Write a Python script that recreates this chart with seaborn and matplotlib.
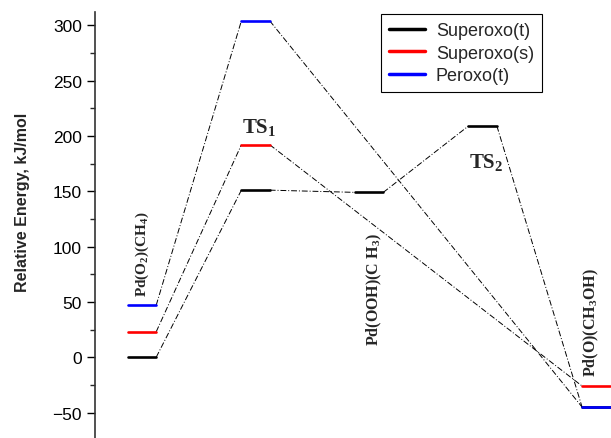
import pandas as pd
import matplotlib
matplotlib.use('Agg')
import matplotlib.pyplot as plt
import seaborn as sns
from matplotlib.ticker import MultipleLocator

# energie relative (kJ/mol) per ogni specie lungo il cammino di reazione
species = ['Superoxo(t)', 'Superoxo(s)', 'Peroxo(t)']
steps_t = [0, 1, 2, 3, 4]
energy_sup_t = [0, 151, 149, 209, -45]
steps_s = [0, 1, 4]
energy_sup_s = [23, 192, -26]
steps_p = [0, 1, 4]
energy_per_t = [47, 304, -45]

stage_labels = ['Pd(O$_2$)(CH$_4$)', 'Pd(OOH)(C H$_3$)', 'Pd(O)(CH$_3$OH)']
ts_labels = ['TS$_1$', 'TS$_2$']

palette = {'Superoxo(t)': 'black', 'Superoxo(s)': 'red', 'Peroxo(t)': 'blue'}
half = 0.125

# costruisco le tabelle per i livelli e per i collegamenti
paths = {'Superoxo(t)': (steps_t, energy_sup_t),
         'Superoxo(s)': (steps_s, energy_sup_s),
         'Peroxo(t)': (steps_p, energy_per_t)}
lev_rows, con_rows = [], []
for sp in species:
    st, en = paths[sp]
    for i, (s, e) in enumerate(zip(st, en)):
        lev_rows.append({'species': sp, 'seg': f'{sp}-{i}', 'x': s - half, 'E': e})
        lev_rows.append({'species': sp, 'seg': f'{sp}-{i}', 'x': s + half, 'E': e})
        if i > 0:
            con_rows.append({'species': sp, 'seg': f'{sp}-c{i}', 'x': st[i - 1] + half, 'E': en[i - 1]})
            con_rows.append({'species': sp, 'seg': f'{sp}-c{i}', 'x': s - half, 'E': e})
levels = pd.DataFrame(lev_rows)
conns = pd.DataFrame(con_rows)

sns.set_style('ticks')
plt.rcParams['font.family'] = ['Liberation Sans', 'DejaVu Sans']
plt.rcParams['mathtext.default'] = 'regular'

fig = plt.figure(figsize=(6.11, 4.39), dpi=100)
ax = fig.add_axes([95 / 611, 0.0, 1 - 95 / 611, 1 - 13 / 439])

# collegamenti tratteggiati
for sp in species:
    sns.lineplot(data=conns[conns['species'] == sp], x='x', y='E', units='seg',
                 estimator=None, sort=False, color='black', lw=0.7,
                 linestyle=(0, (6, 2, 1, 2)), legend=False, ax=ax)

# livelli energetici
sns.lineplot(data=levels, x='x', y='E', hue='species', units='seg', estimator=None,
             sort=False, palette=palette, hue_order=species, lw=1.9, ax=ax)

ax.set_xlim(-0.414, 4.13)
ax.set_ylim(-73, 312)
ax.yaxis.set_major_locator(MultipleLocator(50))
ax.yaxis.set_minor_locator(MultipleLocator(25))
ax.tick_params(axis='y', which='major', length=6, width=1, pad=3.5, direction='out',
               labelsize=12.5, colors='black')
ax.tick_params(axis='y', which='minor', length=3.6, width=1, direction='out')
ax.set_xticks([])
ax.set_xlabel('')
ax.set_ylabel('Relative Energy, kJ/mol', fontsize=11.5, fontweight='bold')
ax.yaxis.set_label_coords(-0.125, 0.556)
for side in ['top', 'right', 'bottom']:
    ax.spines[side].set_visible(False)
ax.spines['left'].set_linewidth(1.2)
ax.spines['left'].set_color('#333333')

# etichette delle specie
serif = ['Liberation Serif', 'DejaVu Serif']
ax.text(0, 55, stage_labels[0], rotation=90, ha='center', va='bottom',
        fontsize=11, fontweight='bold', family=serif)
ax.text(2.05, 11, stage_labels[1], rotation=90, ha='center', va='bottom',
        fontsize=11.5, fontweight='bold', family=serif)
ax.text(3.96, -17, stage_labels[2], rotation=90, ha='center', va='bottom',
        fontsize=11.5, fontweight='bold', family=serif)
ax.text(1.03, 199, ts_labels[0], ha='center', va='bottom',
        fontsize=15, fontweight='bold', family=serif)
ax.text(3.03, 167, ts_labels[1], ha='center', va='bottom',
        fontsize=15, fontweight='bold', family=serif)

leg = ax.legend(loc='upper right', bbox_to_anchor=(542 / 611, 1 - 15 / 439),
                bbox_transform=fig.transFigure, borderaxespad=0, fontsize=13,
                handlelength=2.0, handletextpad=0.6, labelspacing=0.3, borderpad=0.45,
                fancybox=False, framealpha=1, edgecolor='black')
leg.get_frame().set_linewidth(0.8)
for h in leg.get_lines():
    h.set_linewidth(2.5)

fig.savefig('out.png', dpi=100)
